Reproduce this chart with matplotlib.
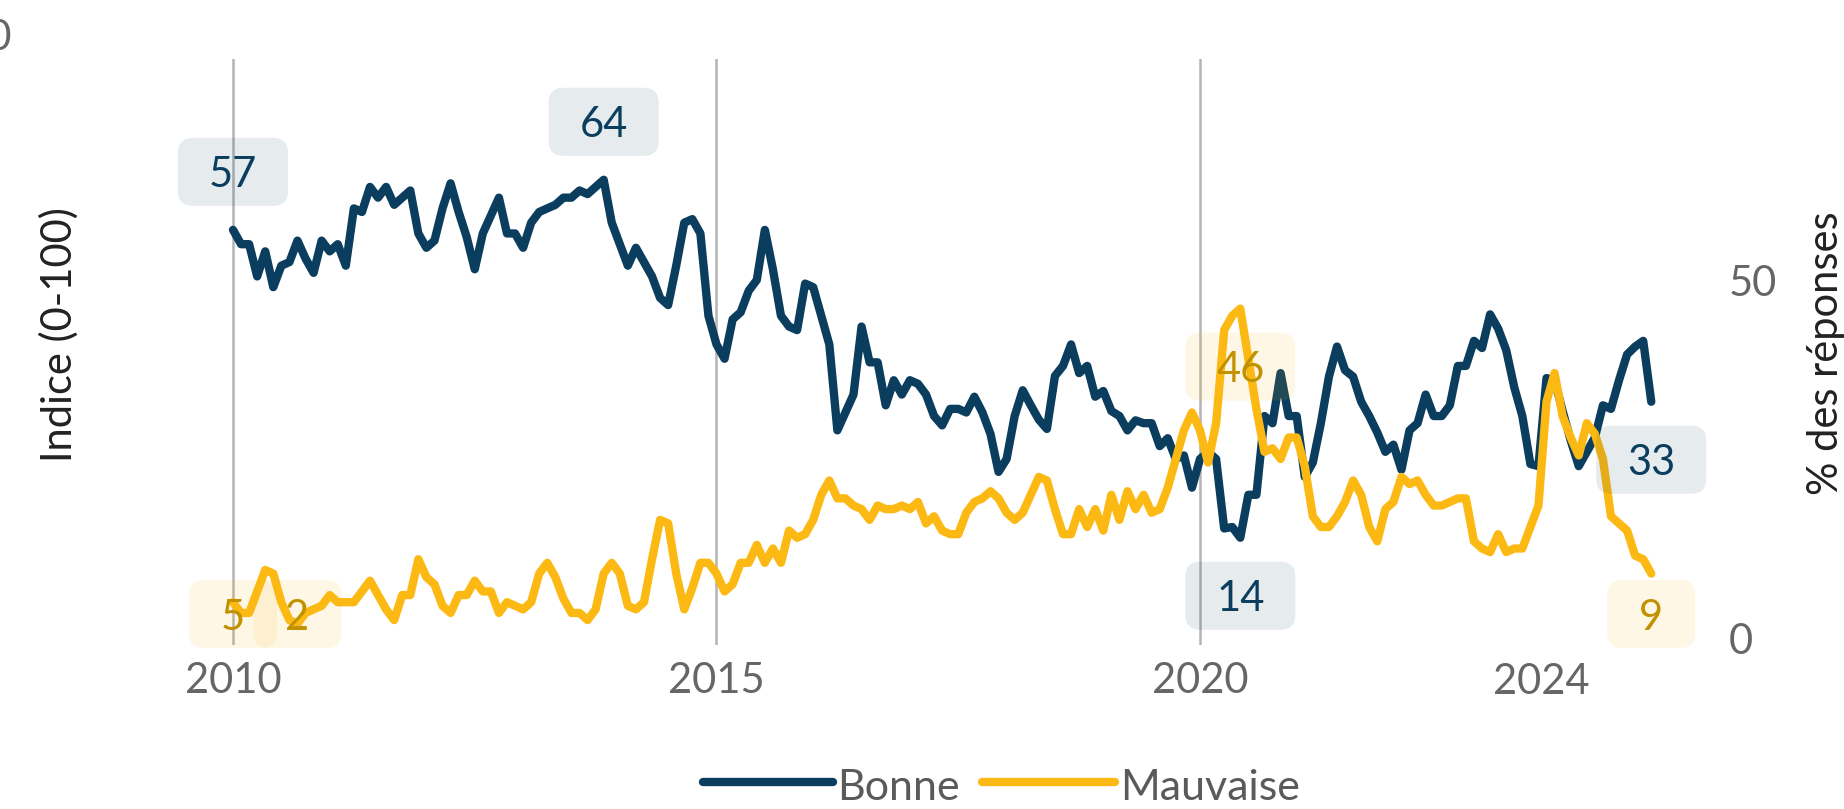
import matplotlib
matplotlib.use("Agg")
import matplotlib.pyplot as plt
import matplotlib.transforms as mtransforms
from matplotlib.patches import FancyBboxPatch
from matplotlib.lines import Line2D
import numpy as np

plt.rcParams["font.family"] = ["Lato", "DejaVu Sans"]

# Monthly series, January 2010 onwards
start_year = 2010
bonne = [
    57, 55, 55, 50.5, 54, 49, 52, 52.5, 55.5, 53, 51, 55.5,
    54, 55, 52, 60, 59.5, 63, 61.5, 63, 60.5, 61.5, 62.5, 56.5,
    54.5, 55.5, 60, 63.5, 59.5, 56, 51.5, 56.5, 59, 61.5, 56.5, 56.5,
    54.5, 58, 59.5, 60, 60.5, 61.5, 61.5, 62.5, 62, 63, 64, 58,
    55, 52, 54.5, 52.5, 50.5, 47.5, 46.5, 52, 58, 58.5, 56.5, 45,
    41, 39, 44.5, 45.5, 48.5, 50, 57, 51.5, 45, 43.5, 43, 49.5,
    49, 45, 41, 29, 31.5, 34, 43.5, 38.5, 38.5, 32.5, 36, 34,
    36, 35.5, 34, 31, 29.7, 32, 32, 31.5, 33.7, 31.5, 28.5, 23.2,
    25, 31, 34.6, 32.5, 30.5, 29.2, 36.6, 38, 41, 37, 38, 33.7,
    34.5, 31.7, 31, 29, 30.4, 30, 30, 26.8, 27.9, 25, 25.5, 21,
    25, 26, 25, 15.3, 15.5, 14, 20, 20, 31, 30, 37, 31,
    31, 22.5, 24.5, 30, 36.5, 40.7, 37.4, 36.5, 33, 31, 28.7, 26,
    27, 23.5, 29, 30, 34, 31, 31, 32.5, 38, 38, 41.5, 40.5,
    45.2, 43.2, 40.2, 35, 31, 24.3, 24, 36.3, 36, 31.7, 27.6, 24,
    26, 28, 32.5, 32, 36, 39.6, 40.7, 41.5, 33,
]
mauvaise = [
    5, 3.5, 3.5, 6.5, 9.5, 9, 5, 2.5, 2, 3.5, 4, 4.5,
    6, 5, 5, 5, 6.5, 8, 6, 4, 2.5, 6, 6, 11,
    8.5, 7.5, 4.5, 3.5, 6, 6, 8, 6.5, 6.5, 3.5, 5, 4.5,
    4, 5, 9, 10.5, 8.5, 5.5, 3.5, 3.5, 2.5, 4, 9, 10.5,
    9, 4.5, 4, 5, 11, 16.5, 16, 9, 4, 7, 10.5, 10.5,
    9, 6.5, 7.5, 10.5, 10.5, 13, 10.5, 12.5, 10.5, 15, 14, 14.5,
    16.5, 20, 22, 19.5, 19.5, 18.5, 18, 16.5, 18.5, 18, 18, 18.5,
    18, 19, 16, 17, 15, 14.5, 14.5, 17.5, 19, 19.5, 20.5, 19.5,
    17.5, 16.5, 17.5, 20, 22.5, 22, 18, 14.5, 14.5, 18, 15.5, 18,
    15, 20, 16.5, 20.5, 18, 20, 17.5, 18, 21, 25, 29, 31.5,
    29, 24.5, 30, 43, 45, 46, 39, 32, 26, 26.5, 25, 28,
    28, 24, 17, 15.5, 15.5, 17, 19, 22, 20, 15.5, 13.5, 18,
    19, 22.5, 21.5, 22, 20, 18.5, 18.5, 19, 19.5, 19.5, 13.5, 12.5,
    12, 14.5, 12, 12.5, 12.5, 15.5, 18.5, 33, 37, 31, 28, 25.5,
    30, 28.5, 25, 17, 16, 15, 11.5, 11, 9,
]
series_names = ["Bonne", "Mauvaise"]
x_ticks = [2010, 2015, 2020]
y_ticks = [0, 50]

NAVY = "#0A3D5E"
GOLD = "#FDB913"
GOLD_TEXT = "#C29100"
TICK_GREY = "#666666"

W, H = 1844, 809
fig = plt.figure(figsize=(W / 100, H / 100), dpi=100)

# axes box in pixels: left 150, right 1700, top 59, bottom 645
ax = fig.add_axes([150 / W, 1 - 645 / H, 1550 / W, 586 / H])
px_year = 96.7
px_unit = 7.16
ax.set_xlim(2010 - 83 / px_year, 2010 + 1467 / px_year)
ax.set_ylim(-7 / px_unit, 579 / px_unit)
ax.set_autoscale_on(False)

x = start_year + np.arange(len(bonne)) / 12.0

for s in ax.spines.values():
    s.set_visible(False)

ax.set_xticks(x_ticks)
ax.set_xticklabels([str(t) for t in x_ticks])
ax.tick_params(axis="x", length=0, pad=12, labelsize=30, labelcolor=TICK_GREY)
ax.grid(axis="x", color="#B4B4B4", linewidth=1.8, zorder=1)
ax.grid(axis="y", visible=False)

ax.yaxis.tick_right()
ax.set_yticks(y_ticks)
ax.set_yticklabels([str(t) for t in y_ticks])
ax.tick_params(axis="y", length=0, pad=21, labelsize=30, labelcolor=TICK_GREY)
for lab in ax.get_yticklabels():
    lab.set_horizontalalignment("left")

ax.plot(x, bonne, color=NAVY, lw=6, solid_joinstyle="round",
        solid_capstyle="round", zorder=2)
ax.plot(x, mauvaise, color=GOLD, lw=6, solid_joinstyle="round",
        solid_capstyle="round", zorder=2)

# value labels on first, extreme and last points
def add_label(idx, vals, color, text_color, direction):
    xd = x[idx]
    v = vals[idx]
    yd = v + direction * 8.1
    yd = max(yd, 3.35)
    s = f"{int(round(v))}"
    w = (66 + 22 * len(s)) / 100.0
    h = 0.68
    tr = fig.dpi_scale_trans + mtransforms.ScaledTranslation(xd, yd, ax.transData)
    box = FancyBboxPatch((-w / 2, -h / 2), w, h,
                         boxstyle="round,pad=0,rounding_size=0.15",
                         transform=tr, facecolor=color, alpha=0.1,
                         edgecolor="none", zorder=3, clip_on=False)
    ax.add_patch(box)
    ax.text(xd, yd, s, ha="center", va="center_baseline", fontsize=30,
            color=text_color, zorder=4)

b = np.array(bonne)
m = np.array(mauvaise)
add_label(0, bonne, NAVY, NAVY, +1)
add_label(int(b.argmax()), bonne, NAVY, NAVY, +1)
add_label(int(b.argmin()), bonne, NAVY, NAVY, -1)
add_label(len(bonne) - 1, bonne, NAVY, NAVY, -1)
add_label(0, mauvaise, GOLD, GOLD_TEXT, -1)
add_label(int(m.argmin()), mauvaise, GOLD, GOLD_TEXT, -1)
add_label(int(m.argmax()), mauvaise, GOLD, GOLD_TEXT, -1)
add_label(len(mauvaise) - 1, mauvaise, GOLD, GOLD_TEXT, -1)

# extra year label
blend = mtransforms.blended_transform_factory(ax.transData, fig.transFigure)
ax.text(2023.53, 1 - 679 / H, "2024", transform=blend, ha="center",
        va="center_baseline", fontsize=30, color=TICK_GREY, clip_on=False)

# left axis remnants and axis titles
fig.text(12 / W, 1 - 35 / H, "100", ha="right", va="center_baseline",
         fontsize=30, color=TICK_GREY)
fig.text(59 / W, 1 - 335 / H, "Indice (0-100)", rotation=90, ha="center",
         va="center", fontsize=30, color="#222222")
fig.text(1826 / W, 1 - 353 / H, "% des réponses", rotation=90, ha="center",
         va="center", fontsize=30, color="#222222")

# legend
ly = 1 - 782 / H
fig.add_artist(Line2D([703 / W, 833 / W], [ly, ly], color=NAVY, lw=6,
                      solid_capstyle="round", transform=fig.transFigure))
fig.text(837 / W, 1 - 785 / H, series_names[0], ha="left", va="center_baseline",
         fontsize=31, color="#5A5A5A")
fig.add_artist(Line2D([982 / W, 1115 / W], [ly, ly], color=GOLD, lw=6,
                      solid_capstyle="round", transform=fig.transFigure))
fig.text(1120 / W, 1 - 785 / H, series_names[1], ha="left", va="center_baseline",
         fontsize=31, color="#5A5A5A")

fig.savefig("out.png", dpi=100)
